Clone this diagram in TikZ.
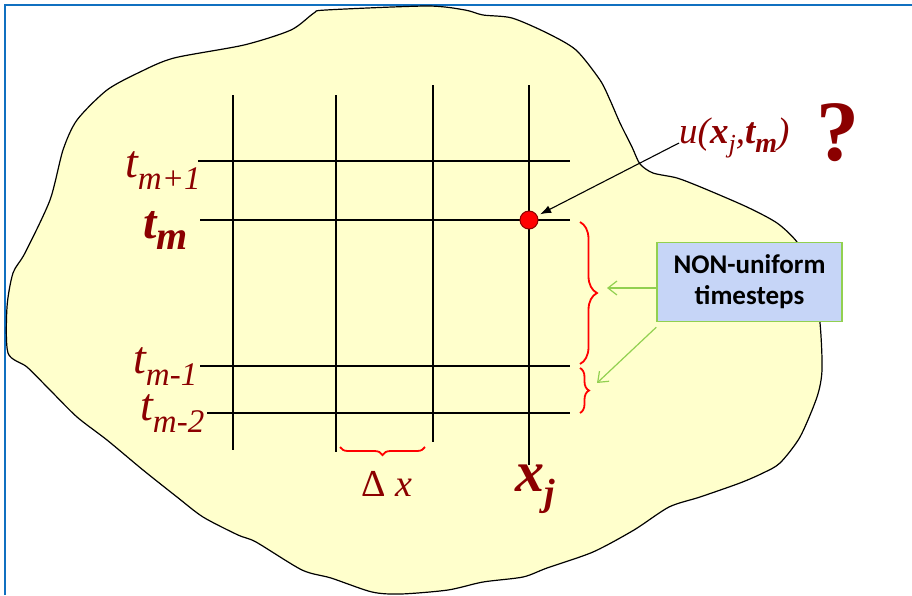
\documentclass[tikz,border=0pt]{standalone}
\usepackage{fontspec}
\setmainfont{Liberation Serif}
\newfontfamily\calfont{Carlito}
\usetikzlibrary{arrows.meta,decorations.pathreplacing,positioning}
\definecolor{frameblue}{HTML}{1070C0}
\definecolor{blobfill}{HTML}{FFFFCC}
\definecolor{labred}{HTML}{8B0000}
\definecolor{boxfill}{HTML}{C6D5F7}
\definecolor{boxedge}{HTML}{92D050}
\newcommand{\fs}[1]{\fontsize{#1}{#1}\selectfont}
\newcommand{\lsub}[2]{#1\raisebox{-12pt}{\fs{33}#2}}

\begin{document}
\begin{tikzpicture}[
  x=1pt,
  y=-1pt,
  every node/.style={inner sep=0pt},
  gridline/.style={line width=1.3pt, black},
  tlab/.style={anchor=base west, text=labred, font=\fs{46}\itshape},
  dotv/.style={circle, fill=red, draw=labred, line width=1pt, minimum size=18pt},
  ptr/.style={-{Latex[length=11pt,width=8pt]}, line width=1.1pt, shorten >=3pt},
  hint/.style={-{Straight Barb[length=9pt,width=14pt]}, boxedge, line width=1.2pt},
  rbrace/.style={decorate, red, line width=1.8pt},
  notebox/.style={draw=boxedge, fill=boxfill, line width=1.4pt, minimum width=185pt, minimum height=79pt, align=center, font=\calfont\bfseries\fontsize{27}{31}\selectfont}
]
\useasboundingbox (0,0) rectangle (912,595);
% frame
\draw[frameblue, line width=2.6pt] (5,595) -- (5,5) -- (912,5);
% domain
\draw[black, line width=1.2pt, fill=blobfill] plot[smooth cycle, tension=0.45] coordinates {
  (314,13) (326,10) (427,6) (465,10) (483,15) (512,18) (547,33) (576,50)
  (600,80) (610,100) (620,123) (632,147) (640,164) (653,173) (677,178)
  (703,188) (747,207) (777,223) (797,242) (812,270) (820,323) (822,370)
  (817,397) (800,437) (780,463) (763,473) (740,483) (700,497) (669,507)
  (634,530) (593,552) (547,568) (523,577) (483,582) (448,590) (401,594)
  (372,592) (331,578) (302,570) (256,542) (238,535) (203,517) (177,497)
  (143,470) (107,440) (77,417) (50,390) (27,367) (8,353) (7,307) (13,273)
  (25,253) (50,200) (63,150) (77,120) (107,90) (140,72) (174,58) (244,45)
  (291,30)};

% grid
\foreach \x/\top/\bot in {233/95/450, 336/95/452, 433/85/442, 529/85/465}
  \draw[gridline] (\x,\top) -- (\x,\bot);
\foreach \y/\lft in {161/198, 220/200, 366/200, 413/207}
  \draw[gridline] (\lft,\y) -- (570,\y);

% time levels
\node[tlab] (tp) at (125,177) {\lsub{t}{m+1}};
\node[tlab, font=\fs{48}\bfseries\itshape] (t0) at (143,238) {t\raisebox{-11pt}{\fs{40}\bfseries\itshape m}};
\node[tlab] (tm1) at (133,373) {\lsub{t}{m-1}};
\node[tlab] (tm2) at (140,420) {\lsub{t}{m-2}};

% space step
\node[tlab, font=\fs{38}\upshape] (dx) at (361,496) {Δ \textit{x}};
\node[tlab, font=\fs{58}\bfseries\itshape] (xj) at (515,491) {x\raisebox{-14pt}{\fs{38}j}};

% unknown value
\node[dotv] (ujm) at (529,220) {};
\node[tlab, font=\fs{37}\itshape] (ulab) at (679,143)
  {u(\textbf{x}\raisebox{-9pt}{\fs{26}j},\textbf{t}\raisebox{-9pt}{\fs{28}\bfseries m})};
\node[tlab, font=\fs{86}\bfseries\upshape] (qm) at (816,160) {?};
\draw[ptr] (ulab.base west) -- (ujm);

% braces
\coordinate (b1a) at (580,222);
\coordinate (b1b) at (580,364);
\coordinate (b2a) at (580,368);
\coordinate (b2b) at (580,413);
\coordinate (dxa) at (425,447);
\coordinate (dxb) at (340,447);
\draw[rbrace, decoration={brace, amplitude=17pt}] (b1a) -- (b1b);
\draw[rbrace, decoration={brace, amplitude=9pt}] (b2a) -- (b2b);
\draw[rbrace, decoration={brace, amplitude=8pt}] (dxa) -- (dxb);

% note
\node[notebox] (note) at (749.5,282) {NON-uniform\\timesteps};
\coordinate (tip1) at (607,288);
\coordinate (tip2) at (597,383);
\draw[hint] ([yshift=-6pt]note.west) -- (tip1);
\draw[hint] ([yshift=-5pt]note.south west) -- (tip2);
\end{tikzpicture}
\end{document}
